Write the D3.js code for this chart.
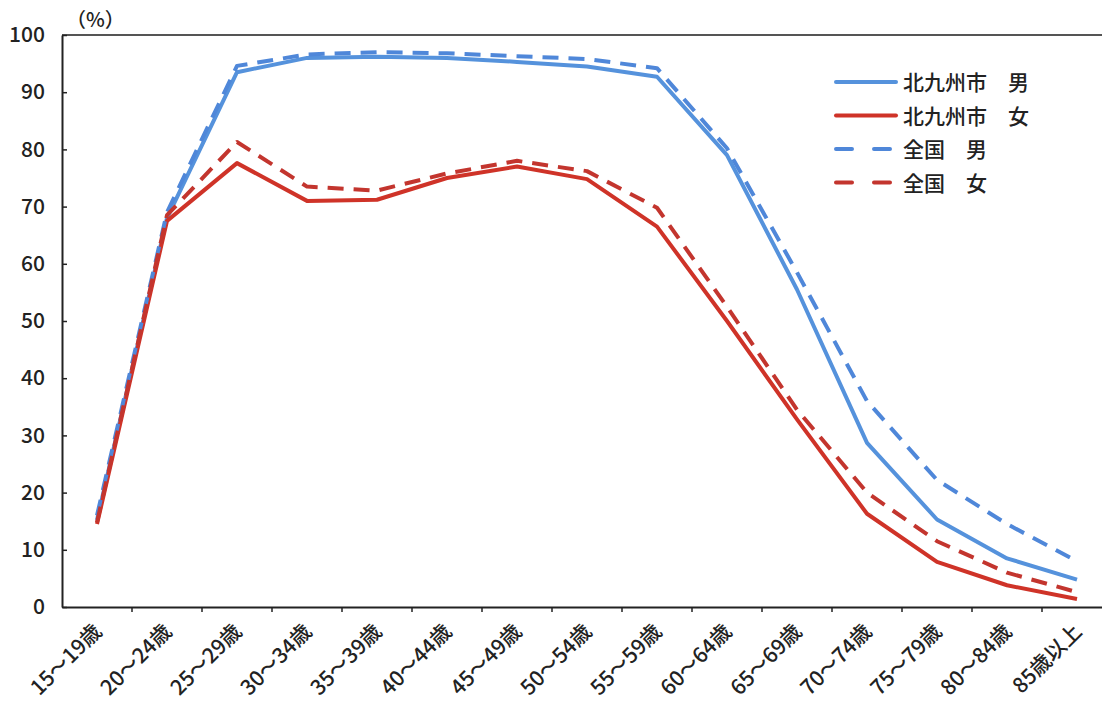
<!DOCTYPE html>
<html>
<head>
<meta charset="utf-8">
<script src="https://cdn.jsdelivr.net/npm/d3@7"></script>
<style>
  body { margin: 0; background: #fff; overflow: hidden; }
  text { font-family: "Noto Sans CJK JP", "Noto Sans", sans-serif; fill: #222; font-weight: 500; }
</style>
</head>
<body>
<div class="canva"></div>
<script>
// age groups
const ages = ["15～19歳","20～24歳","25～29歳","30～34歳","35～39歳","40～44歳","45～49歳",
  "50～54歳","55～59歳","60～64歳","65～69歳","70～74歳","75～79歳","80～84歳","85歳以上"];

// labour force participation rate (%)
const kitaMale   = [15.2, 68.0, 93.5, 96.0, 96.2, 96.0, 95.3, 94.5, 92.7, 79.0, 55.5, 28.7, 15.3, 8.5, 4.8];
const kitaFemale = [14.5, 67.5, 77.6, 71.0, 71.2, 75.0, 77.0, 74.8, 66.5, 50.0, 32.8, 16.3, 7.9, 3.8, 1.4];
const natMale    = [16.0, 69.0, 94.6, 96.6, 97.0, 96.8, 96.3, 95.8, 94.2, 80.2, 58.5, 36.0, 22.2, 14.5, 8.0];
const natFemale  = [14.8, 68.5, 81.3, 73.5, 72.8, 75.8, 78.0, 76.2, 69.8, 52.5, 34.5, 20.0, 11.5, 6.0, 2.6];

const yTicks = [0,10,20,30,40,50,60,70,80,90,100];

const series = [
  {name: "北九州市　男", values: kitaMale,   color: "#5592dc", dash: null},
  {name: "北九州市　女", values: kitaFemale, color: "#cf3328", dash: null},
  {name: "全国　男",     values: natMale,    color: "#4f87d9", dash: "16,10"},
  {name: "全国　女",     values: natFemale,  color: "#c3352e", dash: "16,10"}
];

const W = 1102, H = 701;
const svg = d3.select(".canva").append("svg")
  .attr("width", W)
  .attr("height", H);

const mLeft = 62, mTop = 35, mBottom = 607;

// plot runs a bit past the right edge of the picture
const x = d3.scaleBand().domain(ages).range([mLeft, mLeft + 15 * 70]);
const y = d3.scaleLinear().domain([0, 100]).range([mBottom, mTop]);

// top border
svg.append("line")
  .attr("x1", mLeft).attr("x2", W)
  .attr("y1", mTop).attr("y2", mTop)
  .attr("stroke", "#555").attr("stroke-width", 2);

// y axis
const yAxis = svg.append("g")
  .attr("transform", `translate(${mLeft},0)`)
  .call(d3.axisLeft(y).tickValues(yTicks).tickSizeInner(-5).tickSizeOuter(0).tickPadding(17));
yAxis.select(".domain").attr("stroke", "#222").attr("stroke-width", 2);
yAxis.selectAll(".tick line").attr("stroke", "#222").attr("stroke-width", 1.5);
yAxis.selectAll("text").style("font-size", "21px").attr("fill", "#222");

// x axis (ticks between categories)
const xAxis = svg.append("g")
  .attr("transform", `translate(0,${mBottom})`)
  .call(d3.axisBottom(x).tickSize(0).tickFormat(""));
xAxis.select(".domain").attr("stroke", "#222").attr("stroke-width", 2);

svg.append("g").selectAll("line")
  .data(ages.slice(1))
  .enter().append("line")
  .attr("x1", d => x(d)).attr("x2", d => x(d))
  .attr("y1", mBottom).attr("y2", mBottom + 5)
  .attr("stroke", "#222").attr("stroke-width", 1.5);

svg.append("g").selectAll("text")
  .data(ages)
  .enter().append("text")
  .attr("transform", d => `translate(${x(d) + x.bandwidth() / 2 + 6},${mBottom + 26}) rotate(-45)`)
  .attr("text-anchor", "end")
  .style("font-size", "21px")
  .text(d => d);

// unit
svg.append("text")
  .attr("x", 66).attr("y", 27)
  .style("font-size", "20px")
  .text("（%）");

// lines
const line = d3.line()
  .x((d, i) => x(ages[i]) + x.bandwidth() / 2)
  .y(d => y(d));

svg.append("g").selectAll("path")
  .data(series)
  .enter().append("path")
  .attr("d", d => line(d.values))
  .attr("fill", "none")
  .attr("stroke", d => d.color)
  .attr("stroke-width", 4)
  .attr("stroke-linejoin", "round")
  .attr("stroke-dasharray", d => d.dash);

// legend
const lg = svg.append("g").selectAll("g")
  .data(series)
  .enter().append("g")
  .attr("transform", (d, i) => `translate(836,${82 + i * 33.5})`);

lg.append("line")
  .attr("x1", 0).attr("x2", 60)
  .attr("stroke", d => d.color)
  .attr("stroke-width", 4)
  .attr("stroke-linecap", "round")
  .attr("stroke-dasharray", d => d.dash ? "16,22" : null);

lg.append("text")
  .attr("x", 67).attr("y", 8)
  .style("font-size", "21px")
  .text(d => d.name);
</script>
</body>
</html>
